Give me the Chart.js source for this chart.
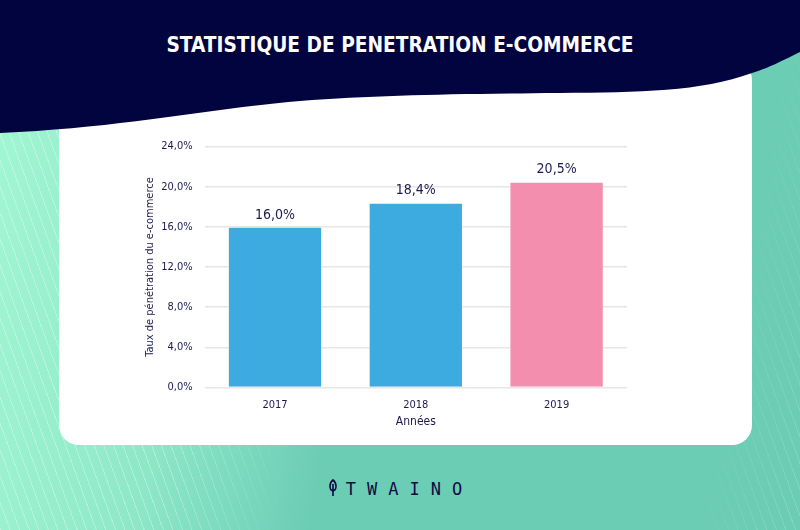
<!DOCTYPE html>
<html>
<head>
<meta charset="utf-8">
<script src="https://cdn.jsdelivr.net/npm/chart.js@4"></script>
<style>
  html, body { margin: 0; padding: 0; }
  body {
    width: 800px; height: 530px; position: relative; overflow: hidden;
    background: linear-gradient(100deg, #a3f7d4 0%, #8ee8c8 25%, #6ccdb5 45%, #6ccdb5 100%);
    font-family: 'DejaVu Sans Condensed', 'Liberation Sans Narrow', sans-serif;
  }
  .hatch {
    position: absolute; left: 0; top: 0; width: 800px; height: 530px;
    background: repeating-linear-gradient(70deg, rgba(255,255,255,0.3) 0 1px, transparent 1px 9px);
    -webkit-mask-image: linear-gradient(100deg, #000 0%, #000 28%, transparent 42%, transparent 88%, rgba(0,0,0,0.6) 100%);
    mask-image: linear-gradient(100deg, #000 0%, #000 28%, transparent 42%, transparent 88%, rgba(0,0,0,0.6) 100%);
  }
  .card {
    position: absolute; left: 59px; top: 60px; width: 693px; height: 385px;
    background: #fff; border-radius: 20px;
  }
  svg.head { position: absolute; left: 0; top: 0; }
  h1 {
    position: absolute; left: 0; top: 33px; width: 800px; margin: 0;
    text-align: center; color: #fff; font-size: 20.7px; font-weight: bold;
    font-family: 'DejaVu Sans Condensed', sans-serif;
  }
  #wrap { position: absolute; left: 132px; top: 128px; width: 500px; height: 301px; }
  .logo {
    position: absolute; left: 0; top: 479px; width: 800px; text-align: center;
    color: #0c0b45; font-size: 17px; letter-spacing: 11px;
    font-family: 'DejaVu Sans Mono', monospace;
  }
  .logo svg { vertical-align: -2px; margin-right: 7px; }
</style>
</head>
<body>
<div class="hatch"></div>
<div class="card"></div>
<svg class="head" width="800" height="140" viewBox="0 0 800 140">
  <path d="M0,0 H800 V52 C780,62 768,68 752,73 C700,92 640,92 560,93 C450,94 380,95 300,101 C200,110 120,128 0,133 Z" fill="#02043f"/>
</svg>
<h1>STATISTIQUE DE PENETRATION E-COMMERCE</h1>
<div id="wrap"><canvas id="canvas"></canvas></div>
<div class="logo"><svg width="12" height="18" viewBox="0 0 12 18"><path d="M6,1 C10,4 10,11 6,12 C2,11 2,4 6,1 Z M6,5 V17" fill="none" stroke="#0c0b45" stroke-width="1.6"/></svg>TWAINO</div>
<script>
  var years = ['2017', '2018', '2019']
  var penetration = [16.0, 18.4, 20.5]
  var barColors = ['#3daae0', '#3daae0', '#f48eae']
  var yTicks = [0, 4, 8, 12, 16, 20, 24]

  var navy = '#1b1a4f'
  var fmt = function (v) { return v.toFixed(1).replace('.', ',') + '%' }

  var valueLabels = {
    id: 'valueLabels',
    afterDatasetsDraw: function (chart) {
      var ctx = chart.ctx
      var meta = chart.getDatasetMeta(0)
      ctx.save()
      ctx.fillStyle = navy
      ctx.font = '14px "DejaVu Sans Condensed", sans-serif'
      ctx.textAlign = 'center'
      ctx.textBaseline = 'bottom'
      meta.data.forEach(function (bar, i) {
        ctx.fillText(fmt(penetration[i]), bar.x, bar.y - 5)
      })
      ctx.restore()
    }
  }

  var context = document.getElementById('canvas').getContext('2d')
  new Chart(context, {
    type: 'bar',
    data: {
      labels: years,
      datasets: [{
        data: penetration,
        backgroundColor: barColors,
        borderColor: 'rgba(255,255,255,0.5)',
        borderWidth: 1,
        barPercentage: 0.67,
        categoryPercentage: 1
      }]
    },
    plugins: [valueLabels],
    options: {
      responsive: true,
      maintainAspectRatio: false,
      animation: false,
      layout: { padding: { top: 12, right: 5, bottom: 0, left: 0 } },
      plugins: { legend: { display: false }, tooltip: { enabled: false } },
      scales: {
        x: {
          grid: { display: false },
          border: { display: false },
          ticks: { color: navy, font: { size: 11, family: '"DejaVu Sans Condensed", sans-serif' }, padding: 3 },
          title: { display: true, text: 'Années', color: navy, font: { size: 12, family: '"DejaVu Sans Condensed", sans-serif' }, padding: { top: 0, bottom: 0 } }
        },
        y: {
          min: 0,
          max: 24,
          afterBuildTicks: function (axis) {
            axis.ticks = yTicks.map(function (v) { return { value: v } })
          },
          grid: { color: '#e6e6e6', lineWidth: 1.5, drawTicks: false },
          border: { display: false },
          ticks: { color: navy, font: { size: 11, family: '"DejaVu Sans Condensed", sans-serif' }, padding: 12, callback: function (v) { return fmt(v) } },
          title: { display: true, text: 'Taux de pénétration du e-commerce', color: navy, font: { size: 11, family: '"DejaVu Sans Condensed", sans-serif' }, padding: { top: 12, bottom: -8 } }
        }
      }
    }
  })
</script>
</body>
</html>
